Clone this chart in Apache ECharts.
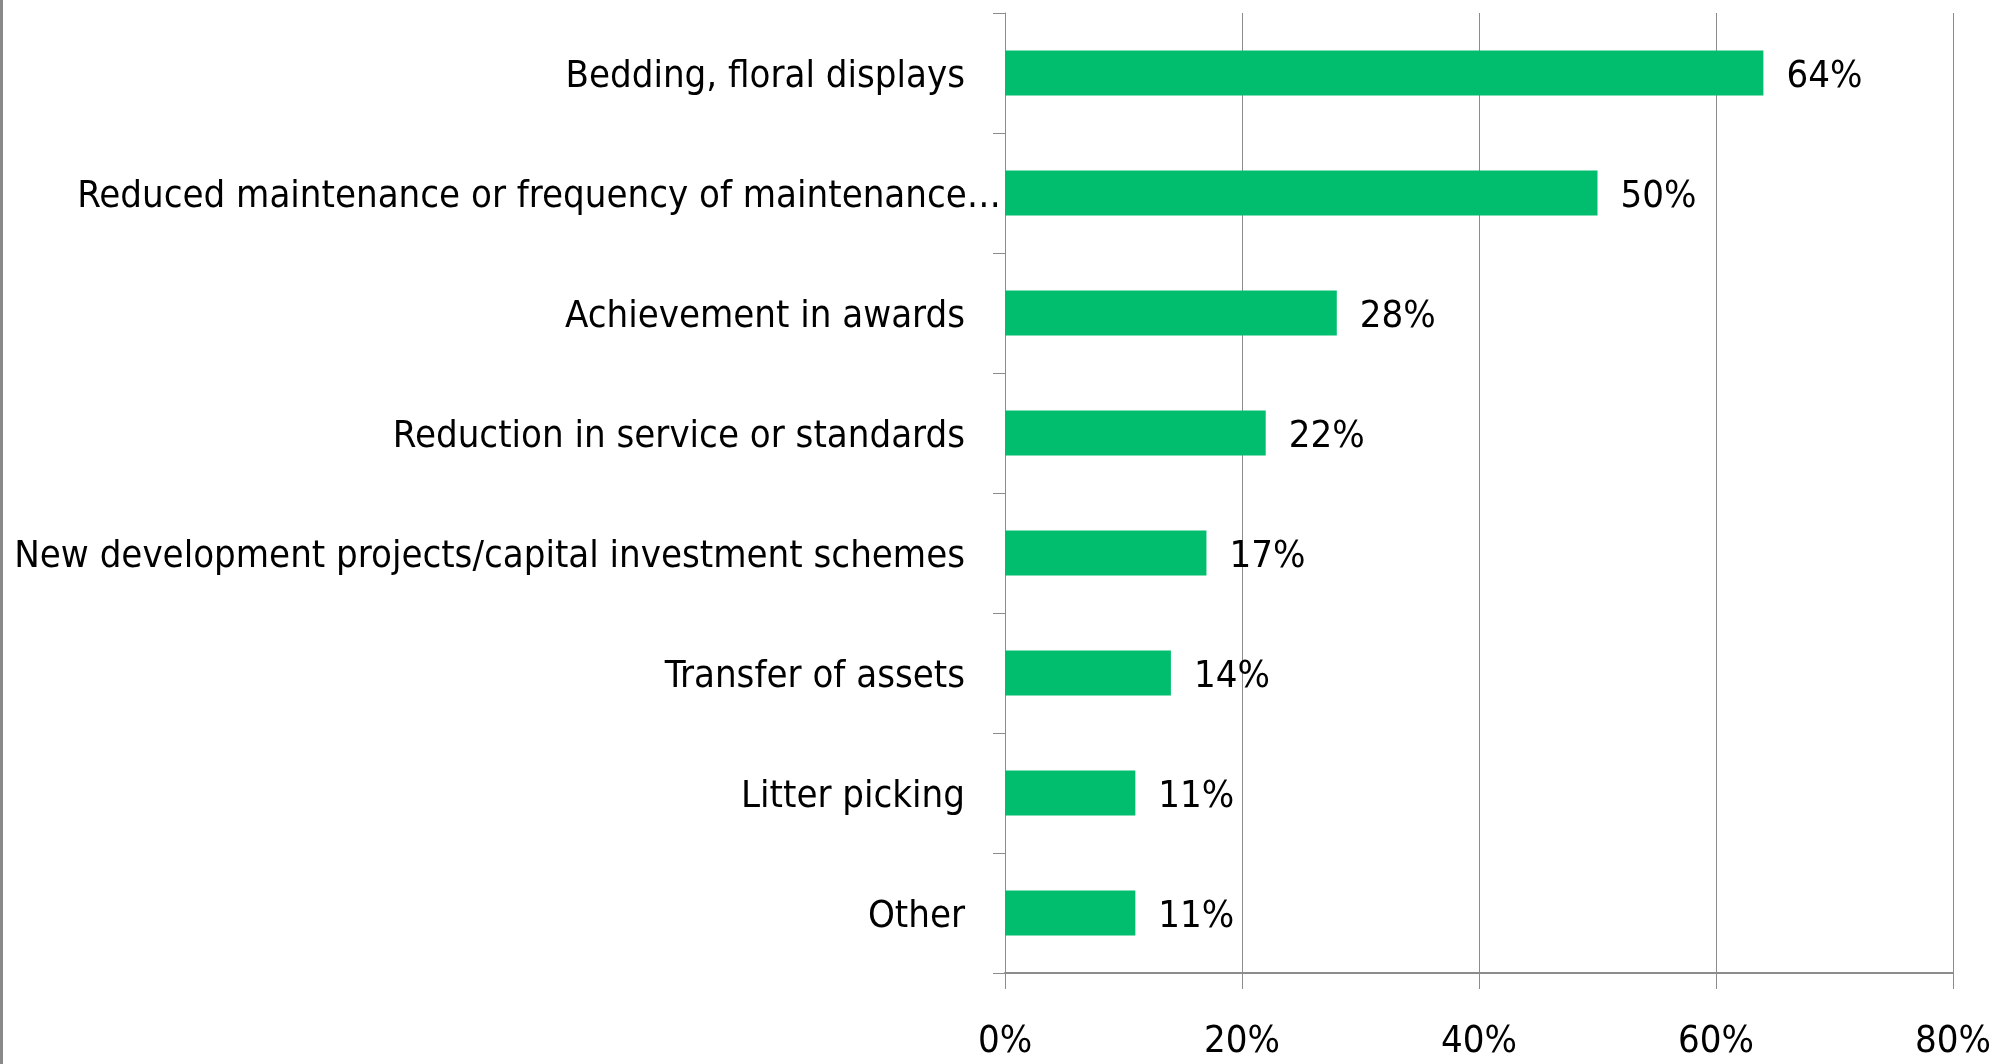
<!DOCTYPE html>
<html>
<head>
<meta charset="utf-8">
<script src="https://cdn.jsdelivr.net/npm/echarts@6/dist/echarts.min.js"></script>
<style>
  html, body { margin: 0; padding: 0; background: #fff; }
  #chart { width: 2010px; height: 1064px; }
</style>
</head>
<body>
<div id="chart"></div>
<script>
const categories = [
  'Bedding, floral displays',
  'Reduced maintenance or frequency of maintenance…',
  'Achievement in awards',
  'Reduction in service or standards',
  'New development projects/capital investment schemes',
  'Transfer of assets',
  'Litter picking',
  'Other'
];
const values = [64, 50, 28, 22, 17, 14, 11, 11];
const axisMax = 80;
const axisStep = 20;

const FONT = "'DejaVu Sans Condensed', 'Liberation Sans Narrow', sans-serif";
const FONT_SIZE = 38;

const chart = echarts.init(document.getElementById('chart'));

chart.setOption({
  animation: false,
  backgroundColor: '#fff',
  textStyle: { fontFamily: FONT },
  graphic: [
    {
      type: 'line',
      shape: { x1: 1.5, y1: 0, x2: 1.5, y2: 1064 },
      style: { stroke: '#8a8a8a', lineWidth: 3 }
    }
  ],
  grid: {
    left: 1005, right: 57, top: 13, bottom: 91,
    containLabel: false,
    outerBoundsMode: 'none'
  },
  xAxis: {
    type: 'value',
    min: 0,
    max: axisMax,
    interval: axisStep,
    axisLine: { show: true, lineStyle: { color: '#8c8c8c', width: 2 } },
    axisTick: { show: true, length: 16, lineStyle: { color: '#8c8c8c' } },
    splitLine: { show: true, lineStyle: { color: '#8c8c8c', width: 1 } },
    axisLabel: {
      margin: 50,
      color: '#000',
      fontFamily: FONT,
      fontSize: FONT_SIZE,
      formatter: '{value}%'
    }
  },
  yAxis: {
    type: 'category',
    inverse: true,
    data: categories,
    axisLine: { show: true, lineStyle: { color: '#8c8c8c', width: 1 } },
    axisTick: { show: true, length: 12, lineStyle: { color: '#8c8c8c' } },
    axisLabel: {
      margin: 4,
      color: '#000',
      fontFamily: FONT,
      fontSize: FONT_SIZE,
      padding: [8, 0, 0, 0],
      formatter: (v) => v.endsWith('…') ? v : v + '{s|}',
      rich: { s: { width: 36 } }
    }
  },
  series: [
    {
      type: 'bar',
      data: values,
      barWidth: 45,
      itemStyle: { color: '#00be6e' },
      label: {
        show: true,
        position: 'right',
        distance: 23,
        offset: [0, 4],
        color: '#000',
        fontFamily: FONT,
        fontSize: FONT_SIZE,
        formatter: '{c}%'
      }
    }
  ]
});
</script>
</body>
</html>
